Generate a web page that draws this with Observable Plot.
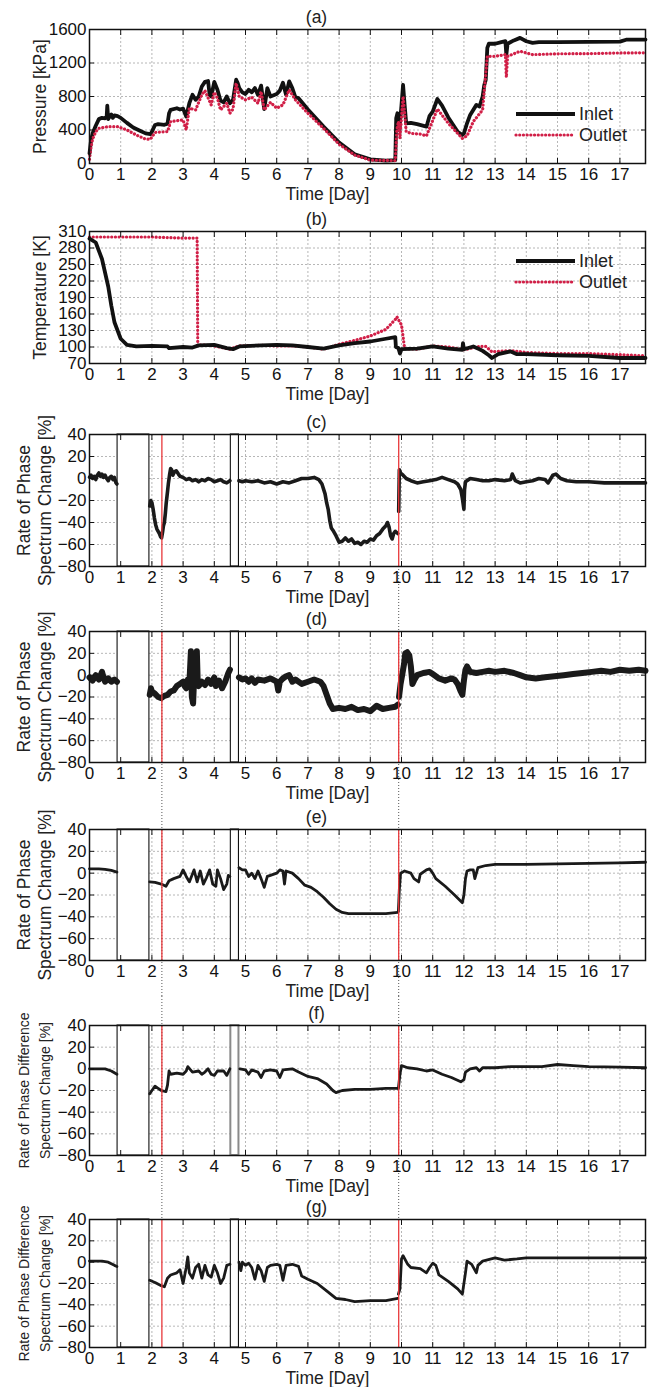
<!DOCTYPE html>
<html><head><meta charset="utf-8">
<script src="https://cdn.jsdelivr.net/npm/d3@7"></script>
<script src="https://cdn.jsdelivr.net/npm/@observablehq/plot@0.6"></script>
<style>
body{margin:0;background:#fff}
#fig{width:654px}
#fig svg{display:block}
</style>
</head><body><div id="fig"></div>
<script>
// ---------------- data ----------------
const dayTicks = d3.range(0, 18);
const xDomain = [0, 17.82];
const eventDays = [2.32, 9.91];            // red markers / dotted connectors
const gapRanges = [[0.90, 1.92], [4.53, 4.79]]; // missing-data windows (c)-(g)
const seriesNames = ["Inlet", "Outlet"];
const panelLetters = ["(a)", "(b)", "(c)", "(d)", "(e)", "(f)", "(g)"];
const pressureTicks = [0, 400, 800, 1200, 1600];
const tempTicks = [70, 100, 130, 160, 190, 220, 250, 280, 310];
const rateTicks = [-80, -60, -40, -20, 0, 20, 40];

// (a) pressure [kPa]
const pressureInlet = [[0,120],[0.05,280],[0.1,360],[0.2,450],[0.3,530],[0.4,545],[0.5,540],[0.55,560],[0.57,690],[0.6,530],[0.65,560],[0.7,585],[0.75,545],[0.8,575],[0.9,565],[1.0,545],[1.2,485],[1.4,430],[1.6,395],[1.8,360],[1.95,350],[2.0,380],[2.1,460],[2.2,470],[2.4,462],[2.5,475],[2.55,600],[2.6,640],[2.8,660],[2.9,645],[3.0,655],[3.1,560],[3.2,720],[3.3,820],[3.4,760],[3.5,800],[3.6,920],[3.7,975],[3.8,985],[3.85,820],[3.9,800],[4.0,975],[4.1,880],[4.2,750],[4.3,730],[4.4,800],[4.5,720],[4.6,760],[4.7,1000],[4.75,960],[4.8,900],[4.9,850],[5.0,830],[5.1,880],[5.2,850],[5.3,900],[5.4,820],[5.5,930],[5.6,650],[5.7,900],[5.8,800],[6.0,830],[6.1,870],[6.2,965],[6.3,820],[6.4,980],[6.5,900],[6.6,790],[6.7,780],[7.0,645],[7.5,440],[8.0,250],[8.5,110],[9.0,50],[9.5,35],[9.8,40],[9.83,540],[9.87,600],[9.93,400],[10.0,700],[10.05,940],[10.1,700],[10.15,480],[10.3,485],[10.5,470],[10.8,440],[10.9,570],[11.0,620],[11.15,770],[11.3,690],[11.5,550],[11.8,380],[11.95,340],[12.0,360],[12.1,480],[12.2,580],[12.4,700],[12.5,680],[12.6,800],[12.65,930],[12.7,1000],[12.75,1380],[12.8,1430],[13.0,1430],[13.2,1450],[13.33,1460],[13.36,1300],[13.4,1430],[13.6,1470],[13.8,1500],[14.0,1460],[14.2,1440],[14.4,1450],[15.0,1450],[16.0,1452],[17.0,1455],[17.2,1478],[17.82,1480]];
const pressureOutlet = [[0,50],[0.05,200],[0.1,290],[0.2,380],[0.3,420],[0.6,440],[0.9,440],[1.2,400],[1.5,340],[1.8,290],[1.95,290],[2.1,370],[2.5,380],[2.6,500],[3.0,520],[3.1,400],[3.2,660],[3.4,640],[3.6,820],[3.7,870],[3.9,700],[4.0,850],[4.1,780],[4.2,640],[4.4,720],[4.5,600],[4.6,650],[4.7,960],[4.8,800],[5.0,760],[5.2,790],[5.4,720],[5.5,860],[5.6,640],[5.8,730],[6.0,660],[6.2,700],[6.4,880],[6.6,760],[7.0,600],[7.5,420],[8.0,230],[8.5,100],[9.0,40],[9.8,35],[9.85,400],[9.9,500],[9.95,300],[10.05,800],[10.15,380],[10.3,360],[10.6,350],[10.8,330],[11.15,650],[11.5,480],[11.95,300],[12.1,330],[12.3,500],[12.6,640],[12.75,1280],[13.0,1280],[13.33,1300],[13.36,1030],[13.4,1280],[13.8,1340],[14.2,1300],[15.0,1310],[16.0,1312],[17.0,1320],[17.82,1322]];

// (b) temperature [K]
const tempInlet = [[0,297],[0.2,290],[0.4,260],[0.6,210],[0.7,175],[0.8,145],[0.9,130],[1.0,115],[1.2,104],[1.5,101],[2.0,102],[2.5,101],[2.55,98],[3.0,100],[3.3,99],[3.5,103],[4.0,104],[4.4,98],[4.6,96],[4.8,101],[5.5,103],[6.0,104],[6.5,103],[7.0,100],[7.5,97],[8.0,103],[8.5,107],[9.0,110],[9.5,115],[9.8,118],[9.82,100],[9.9,98],[9.95,88],[10.0,96],[10.5,97],[11.0,101],[11.5,97],[11.95,95],[11.97,107],[12.0,96],[12.3,101],[12.5,96],[12.6,93],[12.8,85],[12.9,80],[13.1,87],[13.5,92],[13.7,87],[14.0,87],[15.0,85],[16.0,84],[17.0,80],[17.82,80]];
const tempOutlet = [[0,300],[1,300],[2,300],[3,298],[3.45,298],[3.47,102],[3.6,104],[4.0,102],[4.5,96],[4.8,102],[5.5,103],[6.0,102],[6.5,102],[7.0,100],[7.5,96],[8.0,105],[8.5,112],[9.0,120],[9.5,132],[9.8,150],[9.85,155],[10.0,140],[10.1,97],[10.5,96],[11.0,102],[11.5,100],[12.0,95],[12.5,101],[12.7,101],[12.9,91],[13.3,93],[13.6,93],[14.0,90],[15.0,88],[16.0,88],[17.0,86],[17.82,84]];

// (c) rate of phase spectrum change [%] (segments split by data gaps)
const rateC = [
 [[0,1],[0.05,3],[0.1,0],[0.15,2],[0.2,-1],[0.25,3],[0.3,5],[0.35,2],[0.4,4],[0.45,1],[0.5,3],[0.55,0],[0.6,-2],[0.65,1],[0.7,2],[0.75,-1],[0.8,1],[0.85,-4],[0.88,-5]],
 [[1.93,-25],[1.96,-20],[2.0,-22],[2.04,-28],[2.08,-36],[2.12,-42],[2.16,-46],[2.2,-48],[2.24,-50],[2.28,-53],[2.31,-54],[2.34,-49],[2.37,-43],[2.4,-40],[2.43,-32],[2.46,-22],[2.5,-12],[2.53,-4],[2.57,4],[2.6,9],[2.63,8],[2.67,3],[2.72,6],[2.78,7],[2.85,4],[2.9,2],[3.0,1],[3.1,-1],[3.2,0],[3.3,-2],[3.4,-1],[3.5,-3],[3.6,-1],[3.7,-2],[3.8,0],[3.9,-1],[4.0,-3],[4.1,-2],[4.2,-1],[4.3,-3],[4.4,-4],[4.5,-2]],
 [[4.79,-2],[4.9,-3],[5.0,-2],[5.2,-3],[5.4,-2],[5.6,-4],[5.8,-3],[6.0,-5],[6.2,-3],[6.4,-4],[6.6,-2],[6.8,0],[7.0,0],[7.2,1],[7.35,-1],[7.45,-5],[7.55,-14],[7.6,-22],[7.65,-28],[7.7,-38],[7.75,-45],[7.8,-47],[7.9,-52],[8.0,-58],[8.1,-57],[8.2,-54],[8.3,-57],[8.4,-55],[8.5,-59],[8.6,-58],[8.7,-60],[8.8,-57],[8.9,-58],[9.0,-55],[9.1,-56],[9.2,-52],[9.3,-50],[9.4,-46],[9.5,-43],[9.55,-40],[9.6,-44],[9.65,-52],[9.7,-55],[9.75,-50],[9.8,-48],[9.88,-50]],
 [[9.91,-30],[9.92,-10],[9.93,8],[9.97,5],[10.05,3],[10.15,0],[10.3,-2],[10.5,-4],[10.7,-3],[10.9,-2],[11.1,-1],[11.3,1],[11.5,-1],[11.7,-3],[11.8,-5],[11.9,-10],[11.95,-18],[12.0,-28],[12.02,-10],[12.05,-3],[12.2,0],[12.4,-1],[12.6,-2],[12.8,-2],[13.0,-1],[13.3,-2],[13.5,-1],[13.55,4],[13.65,-2],[13.8,-4],[14.0,-3],[14.2,-2],[14.4,0],[14.6,-1],[14.7,-4],[14.85,3],[14.95,4],[15.1,0],[15.3,-2],[15.6,-3],[16.0,-3],[16.5,-4],[17.0,-4],[17.5,-4],[17.82,-4]]
];
// (d)
const rateD = [
 [[0,-2],[0.1,-5],[0.2,0],[0.3,-4],[0.4,3],[0.45,-2],[0.5,-6],[0.6,-3],[0.7,-6],[0.8,-4],[0.88,-6]],
 [[1.93,-18],[1.97,-12],[2.0,-15],[2.1,-17],[2.2,-20],[2.3,-21],[2.4,-19],[2.5,-18],[2.6,-15],[2.7,-14],[2.8,-10],[2.9,-8],[3.0,-6],[3.05,-10],[3.1,-12],[3.15,-4],[3.2,-8],[3.25,22],[3.28,-20],[3.32,-26],[3.35,-5],[3.4,-8],[3.44,22],[3.47,-8],[3.5,-10],[3.6,-6],[3.7,-9],[3.8,-4],[3.9,-8],[4.0,-2],[4.05,-10],[4.15,-5],[4.25,-12],[4.35,-6],[4.45,2],[4.5,5]],
 [[4.79,-2],[4.9,-4],[5.0,-3],[5.1,-6],[5.2,-3],[5.3,-7],[5.4,-4],[5.6,-5],[5.8,-3],[6.0,-6],[6.05,-14],[6.1,-6],[6.2,-3],[6.3,-1],[6.4,0],[6.5,-6],[6.6,-4],[6.8,-8],[7.0,-6],[7.2,-4],[7.4,-6],[7.5,-10],[7.6,-18],[7.7,-26],[7.8,-31],[8.0,-30],[8.2,-31],[8.4,-29],[8.6,-32],[8.8,-31],[9.0,-33],[9.2,-28],[9.4,-31],[9.6,-30],[9.8,-29],[9.88,-27]],
 [[9.92,-20],[9.97,-8],[10.02,0],[10.08,10],[10.12,20],[10.18,21],[10.25,18],[10.3,8],[10.35,-8],[10.4,-5],[10.5,0],[10.7,2],[10.9,3],[11.0,1],[11.2,-3],[11.4,-5],[11.6,-3],[11.7,-4],[11.8,-8],[11.9,-15],[11.95,-18],[12.0,-5],[12.05,5],[12.1,8],[12.2,3],[12.4,2],[12.6,3],[12.8,4],[13.0,3],[13.3,4],[13.6,2],[13.8,0],[14.0,-2],[14.3,-3],[14.6,-2],[14.9,-1],[15.2,0],[15.5,1],[15.8,2],[16.1,3],[16.4,4],[16.7,3],[17.0,5],[17.3,4],[17.6,5],[17.82,4]]
];
// (e)
const rateE = [
 [[0,4],[0.3,4],[0.5,3.5],[0.7,2.5],[0.88,1]],
 [[1.93,-8],[2.1,-8.5],[2.3,-10],[2.45,-12],[2.55,-7],[2.7,-5],[2.9,-3],[3.0,3],[3.1,-3],[3.2,-8],[3.35,3],[3.45,-8],[3.55,2],[3.65,-10],[3.75,-4],[3.85,3],[3.95,-10],[4.05,-12],[4.1,3],[4.2,-5],[4.3,-15],[4.4,-10],[4.45,-2],[4.5,-3]],
 [[4.79,5],[4.9,3],[5.0,3],[5.1,-3],[5.2,0],[5.3,-5],[5.4,2],[5.5,-5],[5.6,-13],[5.7,-3],[5.8,-2],[6.0,0],[6.1,3],[6.2,2],[6.25,-10],[6.3,2],[6.5,0],[6.7,-5],[6.9,-11],[7.1,-13],[7.3,-17],[7.5,-22],[7.7,-28],[7.9,-33],[8.1,-36],[8.3,-37],[8.6,-37],[9.0,-37],[9.5,-37],[9.88,-36]],
 [[9.9,-35],[9.93,-15],[9.97,0],[10.1,2],[10.3,0],[10.4,-5],[10.55,-8],[10.6,-1],[10.8,3],[10.9,4],[11.0,0],[11.1,-5],[11.4,-12],[11.7,-20],[11.95,-27],[12.0,-20],[12.05,-5],[12.1,2],[12.2,3],[12.3,3],[12.35,-5],[12.45,5],[12.7,7],[13.0,8],[14.0,8],[15.0,8.5],[16.0,9],[17.0,9.5],[17.82,10]]
];
// (f) rate of phase difference spectrum change [%]
const rateF = [
 [[0,0],[0.3,0],[0.5,0],[0.7,-2],[0.88,-5]],
 [[1.93,-23],[2.0,-20],[2.1,-16],[2.2,-18],[2.3,-20],[2.45,-21],[2.5,-15],[2.55,-2],[2.6,-5],[2.8,-4],[3.0,-5],[3.1,-2],[3.15,2],[3.3,-3],[3.5,-2],[3.6,-5],[3.7,-3],[3.8,0],[3.9,-5],[4.0,-6],[4.1,-2],[4.3,-2],[4.4,-6],[4.5,0]],
 [[4.82,0],[5.0,-1],[5.1,-5],[5.2,-1],[5.4,-3],[5.5,-8],[5.6,-2],[5.8,-1],[6.0,-2],[6.1,-8],[6.2,-1],[6.5,0],[6.7,-3],[7.0,-7],[7.3,-9],[7.6,-14],[7.8,-20],[7.9,-22],[8.1,-20],[8.5,-19],[9.0,-19],[9.5,-18],[9.88,-18]],
 [[9.9,-18],[9.95,-5],[10.0,3],[10.2,1],[10.5,0],[10.8,-2],[11.0,-1],[11.3,-5],[11.6,-8],[11.9,-12],[12.0,-10],[12.05,-3],[12.2,0],[12.4,1],[12.5,-2],[12.6,1],[13.0,1],[13.5,2],[14.0,2],[14.5,2],[15.0,4],[15.5,3],[16.0,2],[17.0,1.5],[17.82,1]]
];
// (g)
const rateG = [
 [[0,1],[0.4,1],[0.6,0],[0.8,-3],[0.88,-4]],
 [[1.93,-17],[2.1,-19],[2.3,-22],[2.4,-23],[2.5,-15],[2.6,-12],[2.8,-10],[2.9,-7],[3.0,-20],[3.1,-5],[3.15,5],[3.2,-10],[3.3,-15],[3.4,-5],[3.5,-2],[3.6,-15],[3.7,-3],[3.8,-12],[3.9,-14],[4.0,-3],[4.1,-10],[4.2,-20],[4.3,-15],[4.4,-3],[4.5,-2]],
 [[4.79,0],[4.85,-8],[4.9,0],[5.0,-3],[5.1,-1],[5.2,-5],[5.3,-16],[5.4,-3],[5.5,-8],[5.6,-18],[5.7,-5],[5.8,-3],[6.0,-2],[6.1,-3],[6.2,-17],[6.3,-3],[6.5,-2],[6.7,-4],[6.8,-13],[7.0,-16],[7.3,-20],[7.6,-27],[7.9,-34],[8.2,-35],[8.5,-37],[9.0,-36],[9.5,-36],[9.88,-34]],
 [[9.9,-30],[9.95,-25],[10.0,3],[10.05,6],[10.2,-2],[10.3,-5],[10.6,-6],[10.8,-10],[10.9,-5],[11.0,-1],[11.1,-3],[11.2,-12],[11.5,-18],[11.8,-25],[11.95,-30],[12.05,-10],[12.1,1],[12.25,-2],[12.4,-10],[12.45,-3],[12.6,1],[13.0,4],[13.3,2],[13.7,3],[14.0,4],[15.0,4],[16.0,4],[17.0,4],[17.82,4]]
];

// ---------------- styling / layout ----------------
const FONT = "'Liberation Sans', Arial, Helvetica, sans-serif";
const CRIMSON = "#d11f47";
const EVENT_RED = "#e8383a";
const MT = 29, ML = 89, MR = 9, W = 654;
const FS = 17;

function segRows(segs) {
  return segs.flatMap((s, i) => s.map(([d, v]) => ({d, v, seg: i})));
}
function pairRows(arr) { return arr.map(([d, v]) => ({d, v})); }

function legendMark(yInlet, yOutlet) {
  return (index, scales, values, dim) => {
    const right = dim.width - dim.marginRight;
    const g = d3.create("svg:g").attr("font-family", FONT).attr("font-size", 18).attr("text-anchor", "start");
    const rows = [[yInlet, seriesNames[0], "#111", null, 4.2, "butt"], [yOutlet, seriesNames[1], CRIMSON, "0.1,3.6", 3.2, "round"]];
    for (const [yy, name, col, dash, sw, cap] of rows) {
      const y = dim.marginTop + yy;
      g.append("line").attr("x1", right - 129).attr("x2", right - 70).attr("y1", y).attr("y2", y)
        .attr("stroke", col).attr("stroke-width", sw).attr("stroke-dasharray", dash).attr("stroke-linecap", cap);
      g.append("text").attr("x", right - 66).attr("y", y).attr("dy", "0.35em").attr("fill", "#222").text(name);
    }
    return g.node();
  };
}

function basePanel({letter, svgH, FH, yDomain, yTicks, ylabel, ylabelSize, lh, ylabelDx, marks, connector, gapStroke2}) {
  const MB = svgH - MT - FH;
  const all = [
    Plot.gridX(dayTicks, {stroke: "#9a9a9a", strokeOpacity: 0.9, strokeWidth: 0.8, strokeDasharray: "2,2"}),
    Plot.gridY(yTicks, {stroke: "#9a9a9a", strokeOpacity: 0.9, strokeWidth: 0.8, strokeDasharray: "2,2"})
  ];
  if (connector) {
    const opts = connector === "bottom" ? {insetTop: FH, insetBottom: -MB}
               : connector === "top" ? {insetTop: -MT, insetBottom: FH}
               : {insetTop: -MT, insetBottom: -MB};
    all.push(Plot.ruleX(eventDays, {x: d => d, stroke: "#444", strokeWidth: 0.9, strokeDasharray: "1,2", ...opts}));
  }
  if (yDomain[0] === -80) {
    all.push(Plot.rectX(gapRanges, {x1: d => d[0], x2: d => d[1], fill: "white",
      stroke: (d, i) => (gapStroke2 && i === 1) ? "#8a8a8a" : "#111", strokeWidth: (d,i) => (gapStroke2 && i === 1) ? 2 : 1.1}));
  }
  all.push(...marks);
  if (yDomain[0] === -80) {
    all.push(Plot.ruleX(eventDays, {x: d => d, stroke: EVENT_RED, strokeWidth: 1.3}));
  }
  all.push(
    Plot.frame({stroke: "#111", strokeWidth: 1.5}),
    Plot.axisX(dayTicks, {anchor: "bottom", tickSize: -5, tickPadding: 9, fontSize: FS, label: null, tickFormat: d3.format("d")}),
    Plot.axisX(dayTicks, {anchor: "top", tickSize: -5, tickFormat: () => "", label: null}),
    Plot.axisY(yTicks, {anchor: "left", tickSize: -5, tickPadding: 8, fontSize: FS, label: null, tickFormat: d3.format("d")}),
    Plot.axisY(yTicks, {anchor: "right", tickSize: -5, tickFormat: () => "", label: null}),
    Plot.text([letter], {frameAnchor: "top-left", dx: 227, dy: -12, fontSize: 17.5, textAnchor: "middle", lineAnchor: "middle", fill: "#222"}),
    Plot.text(["Time [Day]"], {frameAnchor: "bottom-left", dx: 238, dy: 31, fontSize: 17.5, textAnchor: "middle", lineAnchor: "middle", fill: "#222"}),
    Plot.text([ylabel], {frameAnchor: "left", dx: ylabelDx, rotate: -90, fontSize: ylabelSize, lineHeight: lh, textAnchor: "middle", lineAnchor: "middle", fill: "#222"})
  );
  return Plot.plot({
    width: W, height: svgH, marginTop: MT, marginBottom: MB, marginLeft: ML, marginRight: MR,
    x: {domain: xDomain, axis: null}, y: {domain: yDomain, axis: null},
    style: {fontFamily: FONT, fontSize: FS + "px", color: "#111", background: "white", overflow: "visible"},
    marks: all
  });
}

const fig = document.getElementById("fig");
const rateLabel = "Rate of Phase\nSpectrum Change [%]";
const diffLabel = "Rate of Phase Difference\nSpectrum Change [%]";

const lineOpts = {x: "d", y: "v", curve: "linear", strokeLinejoin: "round", strokeLinecap: "round"};
const outletOpts = {...lineOpts, stroke: CRIMSON, strokeWidth: 3.2, strokeDasharray: "0.1,3.6", strokeLinecap: "round"};

fig.append(basePanel({letter: panelLetters[0], svgH: 202, FH: 134, yDomain: [0, 1600], yTicks: pressureTicks,
  ylabel: "Pressure [kPa]", ylabelSize: 17.5, lh: 1, ylabelDx: -49,
  marks: [
    Plot.line(pairRows(pressureInlet), {...lineOpts, stroke: "#111", strokeWidth: 3.8}),
    Plot.line(pairRows(pressureOutlet), outletOpts),
    legendMark(85, 106)
  ]}));
fig.append(basePanel({letter: panelLetters[1], svgH: 203, FH: 132, yDomain: [70, 310], yTicks: tempTicks,
  ylabel: "Temperature [K]", ylabelSize: 17.5, lh: 1, ylabelDx: -49,
  marks: [
    Plot.line(pairRows(tempOutlet), outletOpts),
    Plot.line(pairRows(tempInlet), {...lineOpts, stroke: "#111", strokeWidth: 3.8}),
    legendMark(30, 51)
  ]}));
fig.append(basePanel({letter: panelLetters[2], svgH: 197, FH: 132, yDomain: [-80, 40], yTicks: rateTicks,
  ylabel: rateLabel, ylabelSize: 17.5, lh: 1.22, ylabelDx: -56, connector: "bottom",
  marks: [Plot.line(segRows(rateC), {...lineOpts, z: "seg", stroke: "#1a1a1a", strokeWidth: 3.6})]}));
fig.append(basePanel({letter: panelLetters[3], svgH: 198, FH: 131, yDomain: [-80, 40], yTicks: rateTicks,
  ylabel: rateLabel, ylabelSize: 17.5, lh: 1.22, ylabelDx: -56, connector: "both",
  marks: [Plot.line(segRows(rateD), {...lineOpts, z: "seg", stroke: "#1a1a1a", strokeWidth: 6})]}));
fig.append(basePanel({letter: panelLetters[4], svgH: 196, FH: 131, yDomain: [-80, 40], yTicks: rateTicks,
  ylabel: rateLabel, ylabelSize: 17.5, lh: 1.22, ylabelDx: -56, connector: "both",
  marks: [Plot.line(segRows(rateE), {...lineOpts, z: "seg", stroke: "#1a1a1a", strokeWidth: 2.8})]}));
fig.append(basePanel({letter: panelLetters[5], svgH: 194, FH: 130, yDomain: [-80, 40], yTicks: rateTicks,
  ylabel: diffLabel, ylabelSize: 14, lh: 1.5, ylabelDx: -57, connector: "both", gapStroke2: true,
  marks: [Plot.line(segRows(rateF), {...lineOpts, z: "seg", stroke: "#1a1a1a", strokeWidth: 2.8})]}));
fig.append(basePanel({letter: panelLetters[6], svgH: 197, FH: 128, yDomain: [-80, 40], yTicks: rateTicks,
  ylabel: diffLabel, ylabelSize: 14, lh: 1.5, ylabelDx: -57, connector: "top",
  marks: [Plot.line(segRows(rateG), {...lineOpts, z: "seg", stroke: "#1a1a1a", strokeWidth: 2.8})]}));
</script>
</body></html>
